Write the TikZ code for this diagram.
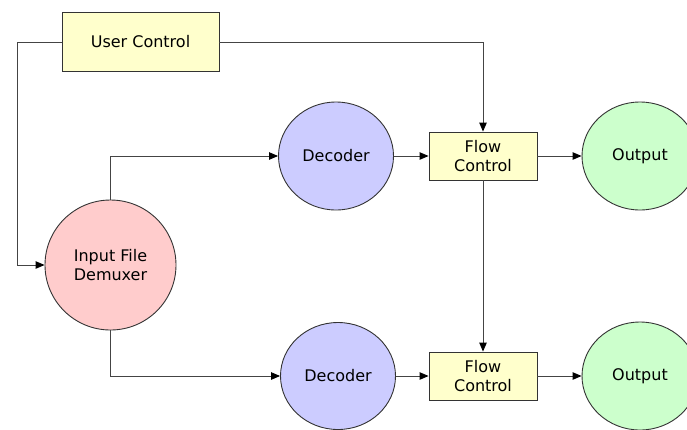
\documentclass[tikz,border=0pt]{standalone}
\usepackage{fontspec}
\setmainfont{DejaVu Sans}
\usetikzlibrary{arrows.meta,shapes.geometric}
\definecolor{boxyellow}{HTML}{FFFFCC}
\definecolor{demuxpink}{HTML}{FFCCCC}
\definecolor{decblue}{HTML}{CCCCFF}
\definecolor{outgreen}{HTML}{CCFFCC}
\definecolor{edgegray}{HTML}{333333}
\definecolor{linkgray}{HTML}{444444}
\tikzset{
  every node/.style={font=\fontsize{16}{19.5}\selectfont, text=black, align=center},
  ctrlbox/.style={draw=edgegray, line width=0.9pt, fill=boxyellow, rectangle, inner sep=0pt},
  blob/.style={draw=edgegray, line width=0.9pt, ellipse, inner sep=0pt},
  link/.style={draw=linkgray, line width=0.9pt, line join=miter, -{Triangle[length=9pt,width=7.5pt,fill=black,color=black]}}
}
\begin{document}
\begin{tikzpicture}[x=1pt, y=-1pt]
  \useasboundingbox (0,0) rectangle (687,429);
  \clip (0,0) rectangle (687,429);

  % user control and the two flow control boxes
  \node[ctrlbox, minimum width=157pt, minimum height=59pt] (uc) at (140.5,42) {User Control};
  \node[ctrlbox, minimum width=108pt, minimum height=48pt] (fc1) at (483,156) {Flow\\Control};
  \node[ctrlbox, minimum width=108pt, minimum height=48pt] (fc2) at (483,376) {Flow\\Control};

  % demuxer, decoders and outputs
  \node[blob, fill=demuxpink, minimum width=131pt, minimum height=130pt] (dm) at (110.5,265) {Input File\\Demuxer};
  \node[blob, fill=decblue, minimum width=115pt, minimum height=108pt] (dec1) at (336,156) {Decoder};
  \node[blob, fill=decblue, minimum width=115pt, minimum height=107pt] (dec2) at (338,376) {Decoder};
  \node[blob, fill=outgreen, minimum width=116pt, minimum height=108pt] (out1) at (640,156) {Output};
  \node[blob, fill=outgreen, minimum width=116pt, minimum height=108pt] (out2) at (640,376) {Output};

  \coordinate (lc) at (17,42);

  % connectors
  \draw[link] (uc.west) -- (lc) |- (dm.west);
  \draw[link] (uc.east) -| (fc1.north);
  \draw[link] (dm.north) |- (dec1.west);
  \draw[link] (dm.south) |- (dec2.west);
  \draw[link] (dec1.east) -- (fc1.west);
  \draw[link] (dec2.east) -- (fc2.west);
  \draw[link] (fc1.east) -- (out1.west);
  \draw[link] (fc2.east) -- (out2.west);
  \draw[link] (fc1.south) -- (fc2.north);
\end{tikzpicture}
\end{document}
